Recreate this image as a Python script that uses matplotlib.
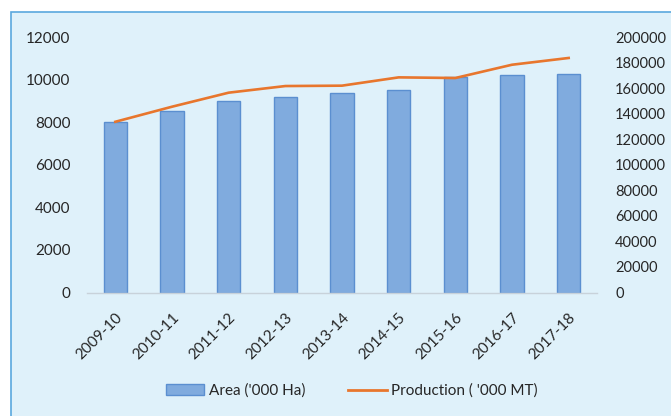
import matplotlib.pyplot as plt
from matplotlib.patches import Rectangle
from matplotlib.lines import Line2D

plt.rcParams['font.family'] = ['Lato', 'DejaVu Sans']

years = ['2009-10', '2010-11', '2011-12', '2012-13', '2013-14',
         '2014-15', '2015-16', '2016-17', '2017-18']
area = [8010, 8520, 9000, 9210, 9400, 9520, 10120, 10250, 10290]
production = [133800, 145600, 156600, 161800, 162100, 168600, 168100, 178500, 183800]

txt = '#262626'
bg = '#dff1fa'

fig = plt.figure(figsize=(6.71, 4.16), dpi=100)
fig.patch.set_facecolor('white')
# light blue chart box with border
fig.patches.append(Rectangle((10.5 / 671, -0.05), 1.0, 1 - 12.3 / 416 + 0.05,
                             transform=fig.transFigure, facecolor=bg,
                             edgecolor='#5aa8de', linewidth=1.2, zorder=-1))

ax = fig.add_axes([87 / 671, 1 - 292.5 / 416, 510 / 671, 255.2 / 416])
ax.set_facecolor('none')
x = list(range(len(years)))
ax.bar(x, area, width=0.41, color='#80abde', edgecolor='#5b8fd0', linewidth=1.0, zorder=2)
ax.set_xlim(-0.5, len(years) - 0.5)
ax.set_ylim(0, 12000)
ax.set_yticks(range(0, 12001, 2000))
ax.set_xticks(x)
ax.set_xticklabels(years, rotation=45, ha='right', rotation_mode='anchor')
for s in ['top', 'right', 'left']:
    ax.spines[s].set_visible(False)
ax.spines['bottom'].set_color('#c8d2da')
ax.spines['bottom'].set_linewidth(1.0)
ax.tick_params(axis='y', length=0, pad=12, labelsize=11, labelcolor=txt)
ax.tick_params(axis='x', length=0, pad=13, labelsize=11, labelcolor=txt)

ax2 = ax.twinx()
ax2.plot(x, production, color='#e8762d', linewidth=1.9, zorder=3)
ax2.set_ylim(0, 200000)
ax2.set_yticks(range(0, 200001, 20000))
for s in ax2.spines.values():
    s.set_visible(False)
ax2.tick_params(axis='y', length=0, pad=13, labelsize=10.5, labelcolor=txt)
for lab in ax2.get_yticklabels():
    lab.set_horizontalalignment('left')

handles = [Rectangle((0, 0), 1, 1, facecolor='#80abde', edgecolor='#5b8fd0'),
           Line2D([0], [0], color='#e8762d', linewidth=2.0)]
fig.legend(handles, ["Area ('000 Ha)", "Production ( '000 MT)"],
           loc='center', bbox_to_anchor=(352 / 671, 1 - 391 / 416), ncol=2,
           frameon=False, fontsize=11, labelcolor=txt, handlelength=2.5,
           handletextpad=0.3, columnspacing=2.8)

fig.savefig('out.png', dpi=100, facecolor=fig.get_facecolor())
